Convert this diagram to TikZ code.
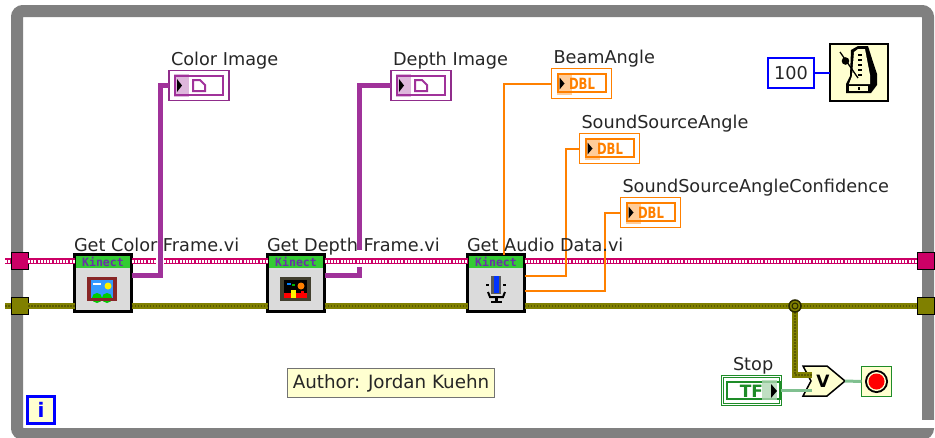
\documentclass[tikz,border=0pt]{standalone}
\usepackage{fontspec}
\setmainfont{DejaVu Sans}
\newfontfamily\kinectfont{DejaVu Sans Mono}
\usepackage{tikz}
\definecolor{framegray}{HTML}{808080}
\definecolor{wirepink}{HTML}{CC0066}
\definecolor{wireolive}{HTML}{808000}
\definecolor{wirepurple}{HTML}{A0329A}
\definecolor{wireorange}{HTML}{FF8000}
\definecolor{wiregreen}{HTML}{80C090}
\definecolor{paleyellow}{HTML}{FFFFD0}
\definecolor{boolgreen}{HTML}{1E8C28}
\definecolor{kinectgreen}{HTML}{33CC33}
\definecolor{kinectpurple}{HTML}{6A2FA8}
\begin{document}
\begin{tikzpicture}[x=1pt,y=1pt]
\tikzstyle{every node}+=[inner sep=0pt,outer sep=0pt]
\tikzstyle{caption}=[anchor=base west,text=black!85,font=\fontsize{17.7}{20}\selectfont]
\tikzstyle{tunnel}=[draw=black,line width=1pt,minimum size=17pt]
\tikzstyle{subvi}=[draw=black,line width=3pt,fill=black!14,minimum size=57pt]
\tikzstyle{titlebar}=[fill=kinectgreen,minimum width=54pt,minimum height=12pt,text=kinectpurple,font=\kinectfont\bfseries\fontsize{11.5}{11}\selectfont]
\tikzstyle{imgind}=[draw=wirepurple!90!black,line width=1.5pt,minimum width=60pt,minimum height=30pt]
\tikzstyle{dblind}=[draw=wireorange,line width=1.5pt,minimum width=60pt,minimum height=30pt]
\tikzstyle{imgwire}=[wirepurple,line width=5.5pt]
\tikzstyle{dblwire}=[wireorange,line width=2pt]
\tikzstyle{pinkwire}=[wirepink,line width=6.5pt]
\tikzstyle{pinkdots}=[white,line width=3pt,dash pattern=on 2pt off 1.2pt]
\tikzstyle{olivewire}=[wireolive,line width=6pt]
\tikzstyle{olivedots}=[wireolive!70!black,line width=2pt,dash pattern=on 1.5pt off 1.5pt]
\useasboundingbox (0,0) rectangle (935,-437);
% loop border
\draw [framegray,line width=12pt,rounded corners=6pt] (17,-11) rectangle (928,-434);
\fill [white] (921,-420) rectangle (935,-428);
% shift registers and sub VIs
\node [tunnel,fill=wirepink] (pinkL) at (19.5,-261) {};
\node [tunnel,fill=wireolive] (oliveL) at (19.5,-306) {};
\node [tunnel,fill=wirepink] (pinkR) at (925.5,-261) {};
\node [tunnel,fill=wireolive] (oliveR) at (925.5,-306) {};
\coordinate (pinkStartL) at (5,-261);
\coordinate (oliveStartL) at (5,-306);
\coordinate (pinkEndR) at (934,-261);
\coordinate (oliveEndR) at (934,-306);
\foreach \name/\xc in {colorVI/103,depthVI/296,audioVI/496}{
  \node [subvi] (\name) at (\xc,-283) {};
  \node [titlebar] (\name Title) at (\xc,-262) {Kinect};
}
% indicators
\foreach \name/\xc/\lab in {colorImg/199/Color Image,depthImg/421/Depth Image}{
  \node [imgind] (\name) at (\xc,-85.5) {};
  \fill [wirepurple!35] (\xc-25,-74) rectangle (\xc-10,-97);
  \draw [wirepurple,line width=2pt] (\xc-24,-76) rectangle (\xc+24,-95);
  \fill [black] (\xc-22,-79) -- (\xc-17,-85.5) -- (\xc-22,-92) -- cycle;
  \draw [wirepurple,line width=2pt] (\xc-6,-80) -- (\xc+1,-80) -- (\xc+6,-85) -- (\xc+6,-91) -- (\xc-6,-91) -- cycle;
  \node [caption] (\name Label) at (\xc-28,-65) {\lab};
}
\foreach \name/\xc/\yc/\lab in {beamInd/581.5/-83.5/BeamAngle,soundInd/609.5/-148.5/SoundSourceAngle,confInd/650.5/-212.5/SoundSourceAngleConfidence}{
  \node [dblind] (\name) at (\xc,\yc) {};
  \fill [wireorange!40] (\xc-25,\yc+11) rectangle (\xc-10,\yc-11);
  \draw [wireorange,line width=2pt] (\xc-24,\yc+10) rectangle (\xc+24,\yc-8);
  \fill [black] (\xc-22,\yc+6) -- (\xc-17,\yc) -- (\xc-22,\yc-6) -- cycle;
  \node [text=wireorange,font=\bfseries\fontsize{15.5}{15}\selectfont] at (\xc+0.5,\yc) {\scalebox{0.75}[1]{DBL}};
  \node [caption] (\name Label) at (\xc-28,\yc+20.5) {\lab};
}
% timing
\node [draw=blue,line width=2pt,minimum width=46pt,minimum height=30pt,text=black!85,font=\fontsize{17.7}{20}\selectfont] (waitConst) at (791,-73) {100};
\node [draw=black,line width=1.5pt,fill=paleyellow,minimum width=58pt,minimum height=57pt] (metronome) at (859,-72.5) {};
\draw [blue,line width=2pt] (waitConst.east) -- (metronome.west |- waitConst);
\fill [black] (851,-50) -- (858,-46) -- (868,-46) -- (873,-62) -- (877,-74) -- (877,-85) -- (871,-93) -- (846,-93) -- (846,-84) -- (850,-76) -- cycle;
\fill [paleyellow] (854,-52) -- (858,-49) -- (865,-49) -- (870,-75) -- (870,-84) -- (849,-84) -- (852,-76) -- cycle;
\fill [paleyellow] (849,-86) rectangle (868,-91);
\fill [black] (858,-87) rectangle (860,-89.5);
\foreach \yc in {54,59,64,69,74}{
  \fill [black] (858,-\yc) rectangle (862,-\yc-1.5);
}
\draw [black,line width=1.3pt] (840,-52) -- (858,-78);
\fill [black] (845.5,-61) circle (3.8);
% stop logic
\node [caption] (stopLabel) at (733,-370) {Stop};
\node [draw=boolgreen,double=white,double distance=1pt,line width=1.2pt,minimum width=58pt,minimum height=28pt] (stopBtn) at (751.5,-390.5) {};
\node [draw=boolgreen,line width=1.5pt,minimum width=53pt,minimum height=17pt] (stopField) at (753.5,-390.5) {};
\node [text=boolgreen,font=\bfseries\fontsize{17}{17}\selectfont] (stopText) at (751.5,-391) {TF};
\fill [boolgreen!35,opacity=0.8] (762,-380) rectangle (777,-400);
\fill [black] (771,-384) -- (777,-391) -- (771,-398) -- cycle;
\node [minimum width=42pt,minimum height=30pt] (orGate) at (824,-381) {};
\draw [black,line width=1.5pt,fill=paleyellow] (803,-366) -- (827,-366) -- (845,-381) -- (827,-396) -- (803,-396) -- (811,-381) -- cycle;
\node [font=\bfseries\fontsize{17}{17}\selectfont] (orText) at (823,-381) {V};
\node [draw=boolgreen,line width=1.5pt,fill=paleyellow,minimum size=30pt] (stopTerm) at (876.5,-381.5) {};
\fill [black] (stopTerm) circle (11.5);
\fill [paleyellow] (stopTerm) circle (9.5);
\fill [red] (stopTerm) circle (8);
% comment and loop index
\node [draw=black!55,line width=1pt,fill=paleyellow,minimum width=207pt,minimum height=29pt,text=black!85,font=\fontsize{18.3}{20}\selectfont] (authorNote) at (391,-383) {Author: Jordan Kuehn};
\node [draw=blue,line width=3pt,fill=paleyellow,minimum size=27pt,text=blue,font=\bfseries\fontsize{20}{20}\selectfont] (loopIdx) at (41,-409.5) {i};
% wires
\coordinate (colorOut) at (colorVI.east |- 0,-275.5);
\coordinate (depthOut) at (depthVI.east |- 0,-275.5);
\coordinate (colorBend) at (160.5,-85.5);
\coordinate (depthBend) at (359.5,-85.5);
\coordinate (beamBend) at (504,-83.5);
\coordinate (soundOut) at (audioVI.east |- 0,-275.5);
\coordinate (soundBend) at (566,-148.5);
\coordinate (confOut) at (audioVI.east |- 0,-291);
\coordinate (confBend) at (605,-212.5);
\coordinate (stopJoin) at (795,-306);
\coordinate (orTop) at (812,-375);
\foreach \from/\to in {pinkStartL/pinkL.west,pinkL.east/colorVI.west,colorVI.east/depthVI.west,depthVI.east/audioVI.west,audioVI.east/pinkR.west,pinkR.east/pinkEndR}{
  \draw [pinkwire] (\from |- 0,-261) -- (\to |- 0,-261);
  \draw [pinkdots] (\from |- 0,-261) -- (\to |- 0,-261);
}
\foreach \from/\to in {oliveStartL/oliveL.west,oliveL.east/colorVI.west,colorVI.east/depthVI.west,depthVI.east/audioVI.west,audioVI.east/oliveR.west,oliveR.east/oliveEndR}{
  \draw [olivewire] (\from |- 0,-306) -- (\to |- 0,-306);
  \draw [olivedots] (\from |- 0,-306) -- (\to |- 0,-306);
}
% purple wires, the first one runs over the pink wire
\fill [white] (156,-257) rectangle (164,-265);
\draw [imgwire] (colorOut) -| (colorBend) -- (colorImg.west);
\draw [imgwire] (depthOut) -| (359.5,-267);
\draw [imgwire] (359.5,-250) -- (depthBend) -- (depthImg.west);
\draw [dblwire] (audioVI.north -| beamBend) -- (beamBend) -- (beamInd.west);
\draw [dblwire] (soundOut) -| (soundBend) -- (soundInd.west);
\draw [dblwire] (confOut) -| (confBend) -- (confInd.west);
\draw [wiregreen,line width=3pt] (stopBtn.east) -- (stopBtn.east -| 812,0);
\draw [wiregreen,line width=3pt] (orGate.east) -- (stopTerm.west);
\draw [wireolive,line width=6pt] (stopJoin) |- (orTop);
\draw [olivedots] (stopJoin) |- (orTop);
\draw [black!70!wireolive,line width=1.5pt,fill=wireolive] (stopJoin) circle (6);
\draw [black!70!wireolive,line width=1pt] (stopJoin) circle (3);
% labels on top of the wires
\foreach \name/\xc/\lab in {colorVI/103/Get Color Frame.vi,depthVI/296/Get Depth Frame.vi,audioVI/496/Get Audio Data.vi}{
  \node [caption] (\name Label) at (\xc-29,-251.7) {\lab};
}
% icons of the sub VIs
\fill [red!45!black!85] (87,-277) rectangle (117,-301);
\fill [blue!50!cyan!80] (91,-280) rectangle (113,-298);
\fill [yellow] (108,-286) circle (3.5);
\fill [white] (93,-283) rectangle (101,-285);
\fill [green!80!black] (97,-298) circle (5);
\fill [green!80!black] (107,-298) circle (5);
\fill [red!45!black!85] (91,-298) rectangle (113,-301);
\fill [black!70!olive] (280,-277) rectangle (311,-301);
\fill [black] (284,-280) rectangle (307,-298);
\fill [orange] (301,-286) circle (3.5);
\fill [blue!50!cyan] (287,-283) rectangle (291,-285);
\fill [green!70!black] (292,-284) rectangle (295,-286);
\fill [red] (284,-298) rectangle (307,-293);
\fill [yellow] (291,-290) rectangle (296,-298);
\fill [red] (301,-291) rectangle (304,-298);
\fill [black!65] (491,-276) rectangle (501,-294);
\fill [blue!80!cyan] (494,-276) rectangle (499,-293);
\draw [black,line width=1.5pt] (486,-285) -- (489,-285) (503,-285) -- (506,-285);
\draw [black,line width=2pt] (488,-292) -- (490,-297) -- (503,-297) -- (505,-292);
\fill [black] (495,-297) rectangle (498,-301);
\fill [black] (491,-301) rectangle (502,-303);
\end{tikzpicture}
\end{document}
